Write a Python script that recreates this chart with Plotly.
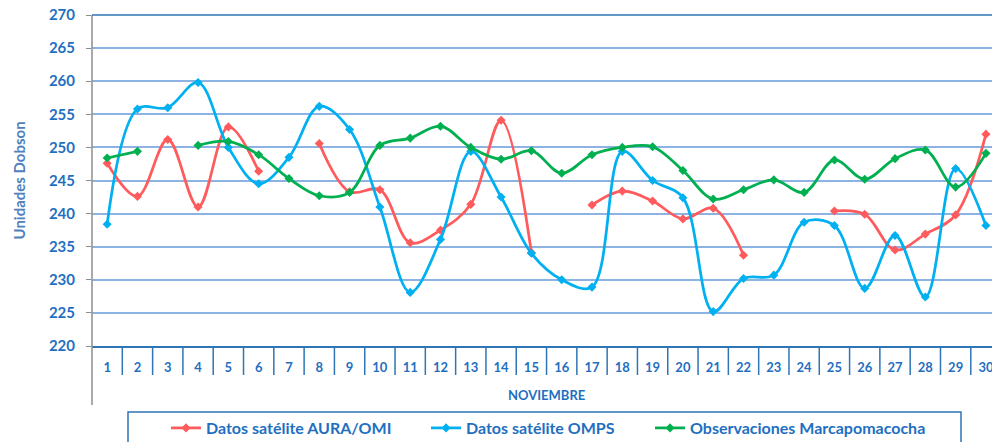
import plotly.graph_objects as go

days = list(range(1, 31))
day_labels = [str(d) for d in days]

aura_omi = [247.6, 242.6, 251.2, 241.0, 253.1, 246.4, None, 250.6, 243.3, 243.6,
            235.6, 237.5, 241.4, 254.1, 234.1, None, 241.3, 243.4, 241.9, 239.2,
            240.8, 233.7, None, None, 240.4, 239.9, 234.5, 236.9, 239.8, 252.0]
omps = [238.4, 255.8, 256.0, 259.8, 250.0, 244.5, 248.5, 256.2, 252.7, 241.0,
        228.1, 236.1, 249.4, 242.5, 234.0, 230.0, 228.9, 249.4, 245.0, 242.4,
        225.2, 230.2, 230.7, 238.7, 238.2, 228.7, 236.7, 227.4, 246.8, 238.2]
marcapomacocha = [248.4, 249.4, None, 250.3, 250.9, 248.9, 245.3, 242.7, 243.2, 250.3,
                  251.4, 253.2, 250.0, 248.2, 249.5, 246.1, 248.9, 250.0, 250.1, 246.5,
                  242.2, 243.6, 245.1, 243.2, 248.1, 245.2, 248.3, 249.6, 244.0, 249.1]

series_names = ["Datos satélite AURA/OMI", "Datos satélite OMPS", "Observaciones Marcapomacocha"]
series_colors = ["#FF5A5C", "#00B0F0", "#00B050"]
series_values = [aura_omi, omps, marcapomacocha]
legend_ids = ["legend", "legend2", "legend3"]

FONT = "Lato"
TICK_BLUE = "#1F6FC1"
AXIS_BLUE = "#2E75B6"
GRID_BLUE = "#8DB3E2"

fig = go.Figure()
for name, color, vals, lg in zip(series_names, series_colors, series_values, legend_ids):
    fig.add_trace(go.Scatter(
        x=days, y=vals, name=name, mode="lines+markers",
        line=dict(color=color, width=2.75, shape="spline", smoothing=1.0),
        marker=dict(symbol="diamond", size=7, color=color),
        connectgaps=False, legend=lg,
    ))

# plot-area geometry (pixels)
L, T, B_PX, H = 92, 15, 346, 442
W = 992
plot_w = W - L
plot_h = B_PX - T

def py(px):
    return (B_PX - px) / plot_h

def pxx(px):
    return (px - L) / plot_w

shapes = []
# category separators below the axis
for k in days[:-1]:
    shapes.append(dict(type="line", xref="x", yref="paper", x0=k + 0.5, x1=k + 0.5,
                       y0=0, y1=py(375), line=dict(color=AXIS_BLUE, width=1.5)))
# left axis line extending down
shapes.append(dict(type="line", xref="paper", yref="paper", x0=0, x1=0,
                   y0=py(405), y1=1, line=dict(color="#8C8C8C", width=1.5)))
# top line
shapes.append(dict(type="line", xref="paper", yref="paper", x0=0, x1=1,
                   y0=1, y1=1, line=dict(color=AXIS_BLUE, width=1.5)))
# legend box
shapes.append(dict(type="rect", xref="paper", yref="paper", x0=pxx(128), x1=pxx(961),
                   y0=py(455), y1=py(412), line=dict(color=AXIS_BLUE, width=1.5),
                   fillcolor="rgba(0,0,0,0)"))

legend_x_px = [166, 426, 650]
leg_font = dict(family=FONT, size=16, color=TICK_BLUE, weight="bold")
legends = {}
for lg, xp in zip(legend_ids, legend_x_px):
    legends[lg] = dict(x=pxx(xp), xanchor="left", y=py(428), yanchor="middle",
                       orientation="h", bgcolor="rgba(0,0,0,0)", borderwidth=0,
                       font=leg_font, itemwidth=30)

fig.update_layout(
    width=W, height=H,
    margin=dict(l=L, r=0, t=T, b=H - B_PX, pad=0, autoexpand=False),
    paper_bgcolor="white", plot_bgcolor="white",
    showlegend=True,
    xaxis=dict(
        range=[0.5, 30.2], tickmode="array", tickvals=days, ticktext=day_labels,
        showgrid=False, zeroline=False, showline=True, linecolor=AXIS_BLUE, linewidth=2,
        ticks="", ticklabelstandoff=8, automargin=False, ticklabeloverflow="allow",
        tickfont=dict(family=FONT, size=13, color=TICK_BLUE, weight="bold"),
    ),
    yaxis=dict(
        range=[220, 270], dtick=5, tick0=220, automargin=False,
        showgrid=True, gridcolor=GRID_BLUE, gridwidth=1.5, zeroline=False,
        showline=False, ticks="outside", ticklen=5, tickcolor="#8C8C8C", tickwidth=1,
        ticklabelstandoff=8,
        tickfont=dict(family=FONT, size=15, color=TICK_BLUE, weight="bold"),
    ),
    shapes=shapes,
    annotations=[
        dict(text="NOVIEMBRE", xref="x", yref="paper", x=15.5, y=py(395),
             showarrow=False, xanchor="center", yanchor="middle",
             font=dict(family=FONT, size=13, color=TICK_BLUE, weight="bold")),
        dict(text="Unidades Dobson", xref="paper", yref="paper", x=pxx(18), y=0.5,
             textangle=-90, showarrow=False, xanchor="center", yanchor="middle",
             font=dict(family=FONT, size=15, color="#4F81BD", weight="bold")),
    ],
    **legends,
)

fig.write_html("out.html", config={"displayModeBar": False},
               post_script="document.body.style.margin='0';")
